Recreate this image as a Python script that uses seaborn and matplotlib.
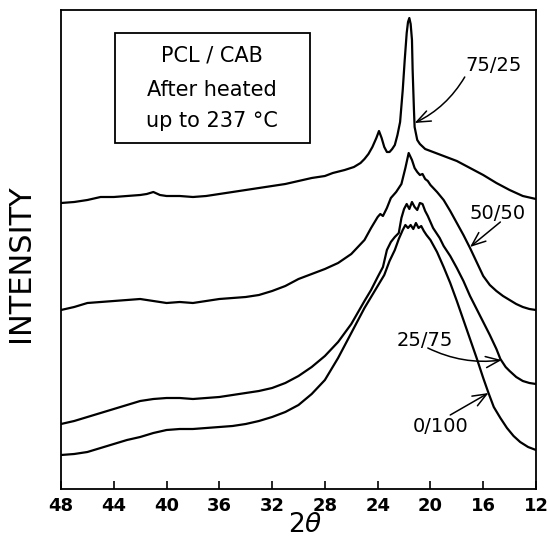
import matplotlib
matplotlib.use("Agg")
import numpy as np
import pandas as pd
import seaborn as sns
from matplotlib import pyplot as plt
from matplotlib.patches import Rectangle

# 2-theta positions and intensity (arbitrary units)
tt_7525 = [48, 47, 46, 45, 44, 43, 42, 41.5, 41, 40.5, 40, 39, 38, 37, 36, 35, 34, 33, 32, 31, 30, 29, 28,
           27.4, 26.5, 25.8, 25.3, 25.0, 24.7, 24.4, 24.1, 23.9, 23.7, 23.5, 23.3, 23.1, 22.9, 22.7, 22.5,
           22.3, 22.1, 21.95, 21.8, 21.7, 21.6, 21.5, 21.4, 21.35, 21.3, 21.25, 21.2, 21.0, 20.8, 20.4, 20.0,
           19, 18, 17, 16, 15, 14, 13, 12]
int_7525 = [287, 288, 290, 293, 293, 294, 295, 296, 298, 295, 294, 294, 293, 294, 296, 298, 300, 302, 304, 306,
            309, 312, 314, 317, 320, 323, 327, 331, 336, 343, 352, 359, 352, 343, 338, 338, 341, 345, 355, 368,
            400, 430, 457, 468, 472, 466, 450, 420, 400, 380, 363, 350, 346, 341, 339, 334, 329, 322, 315, 307,
            300, 294, 291]

tt_5050 = [48, 47, 46, 45, 44, 43, 42, 41, 40, 39, 38, 37, 36, 35, 34, 33, 32, 31, 30, 29, 28, 27, 26, 25,
           24.5, 24.0, 23.8, 23.6, 23.3, 23.0, 22.6, 22.2, 21.9, 21.65, 21.4, 21.2, 21.0, 20.8, 20.6, 20.4,
           20.2, 20.0, 19.5, 19.0, 18.5, 18.0, 17.5, 17.0, 16.5, 16.0, 15.5, 15.0, 14.5, 14.0, 13.5, 13.0,
           12.5, 12.0]
int_5050 = [180, 183, 187, 188, 189, 190, 191, 189, 187, 188, 187, 189, 191, 192, 193, 195, 199, 204, 211, 216,
            221, 227, 236, 250, 262, 273, 276, 274, 282, 292, 298, 306, 322, 337, 330, 322, 318, 315, 316, 311,
            309, 305, 298, 290, 279, 267, 255, 242, 228, 214, 205, 199, 194, 190, 186, 183, 181, 180]

tt_2575 = [48, 47, 46, 45, 44, 43, 42, 41, 40, 39, 38, 37, 36, 35, 34, 33, 32, 31, 30, 29, 28, 27, 26, 25,
           24.5, 24.0, 23.6, 23.3, 23.0, 22.7, 22.4, 22.2, 22.0, 21.8, 21.6, 21.4, 21.2, 21.0, 20.8, 20.6,
           20.4, 20.2, 19.8, 19.3, 19.0, 18.5, 18.0, 17.5, 17.0, 16.5, 16.0, 15.5, 15.0, 14.7, 14.3, 14.0,
           13.5, 13.0, 12.5, 12.0]
int_2575 = [66, 69, 73, 77, 81, 85, 89, 91, 92, 92, 91, 92, 93, 95, 97, 99, 102, 107, 114, 123, 134, 148, 166,
            189, 200, 213, 223, 240, 248, 253, 257, 272, 281, 286, 281, 288, 283, 280, 287, 286, 279, 274, 262,
            252, 244, 234, 222, 209, 194, 181, 168, 155, 141, 131, 123, 119, 113, 109, 107, 106]

tt_0100 = [48, 47, 46, 45, 44, 43, 42, 41, 40, 39, 38, 37, 36, 35, 34, 33, 32, 31, 30, 29, 28, 27, 26, 25,
           24.5, 24.0, 23.5, 23.1, 22.7, 22.4, 22.1, 21.9, 21.7, 21.5, 21.3, 21.1, 20.9, 20.7, 20.5, 20.3,
           20.0, 19.5, 19.0, 18.5, 18.0, 17.5, 17.0, 16.5, 16.0, 15.6, 15.2, 14.7, 14.2, 13.7, 13.2, 12.6, 12.0]
int_0100 = [35, 36, 38, 42, 46, 50, 53, 57, 60, 61, 61, 62, 63, 64, 66, 69, 73, 78, 85, 96, 110, 132, 157, 182,
            193, 204, 215, 229, 240, 251, 260, 265, 262, 265, 261, 267, 262, 264, 259, 255, 250, 238, 223, 207,
            189, 170, 151, 132, 112, 97, 83, 72, 62, 54, 48, 43, 40]

samples = ["75/25", "50/50", "25/75", "0/100"]
x_ticks = [48, 44, 40, 36, 32, 28, 24, 20, 16, 12]
box_lines = ["PCL / CAB", "After heated", "up to 237 °C"]

df = pd.concat([
    pd.DataFrame({"two_theta": tt_7525, "intensity": int_7525, "sample": "75/25"}),
    pd.DataFrame({"two_theta": tt_5050, "intensity": int_5050, "sample": "50/50"}),
    pd.DataFrame({"two_theta": tt_2575, "intensity": int_2575, "sample": "25/75"}),
    pd.DataFrame({"two_theta": tt_0100, "intensity": int_0100, "sample": "0/100"}),
])

sns.set_style("ticks")
plt.rcParams["font.family"] = ["DejaVu Sans"]
plt.rcParams["xtick.direction"] = "in"
plt.rcParams["text.color"] = "black"
plt.rcParams["axes.labelcolor"] = "black"
plt.rcParams["xtick.color"] = "black"

fig = plt.figure(figsize=(5.5, 5.42), dpi=100)
ax = fig.add_axes([61 / 550, 53 / 542, 475 / 550, 479 / 542])

sns.lineplot(data=df, x="two_theta", y="intensity", hue="sample", units="sample", estimator=None,
             palette={s: "black" for s in samples}, linewidth=1.6, legend=False, ax=ax)

ax.set_xlim(48, 12)
ax.set_ylim(1, 480)
ax.set_xticks(x_ticks)
ax.set_xticklabels([str(t) for t in x_ticks], fontsize=13, fontweight="bold")
ax.tick_params(axis="x", length=6, width=1.2, pad=6)
ax.set_yticks([])
for sp in ax.spines.values():
    sp.set_linewidth(1.3)
    sp.set_color("black")

ax.set_xlabel(r"2$\theta$", fontsize=19)
ax.xaxis.set_label_coords(0.514, -0.048)
ax.set_ylabel("INTENSITY", fontsize=22)
ax.yaxis.set_label_coords(-0.054, 0.472)

# inset box
ax.add_patch(Rectangle((0.114, 0.722), 0.41, 0.23, transform=ax.transAxes,
                       fill=False, edgecolor="black", linewidth=1.3))
for txt, yy in zip(box_lines, [0.906, 0.833, 0.768]):
    ax.text(0.318, yy, txt, transform=ax.transAxes, ha="center", va="center", fontsize=15)

# sample labels with arrows
label_pos = {"75/25": (15.25, 425), "50/50": (14.9, 277), "25/75": (20.4, 150), "0/100": (19.2, 63)}
arrow_from = {"75/25": (17.4, 413), "50/50": (14.7, 268), "25/75": (20.2, 142), "0/100": (18.5, 75)}
arrow_to = {"75/25": (21.2, 367), "50/50": (17.0, 243), "25/75": (14.6, 130), "0/100": (15.6, 97)}
arrow_rad = {"75/25": -0.15, "50/50": 0.0, "25/75": 0.15, "0/100": 0.0}
for s in samples:
    ax.text(*label_pos[s], s, ha="center", va="center", fontsize=14)
    ax.annotate("", xy=arrow_to[s], xytext=arrow_from[s],
                arrowprops=dict(arrowstyle="->,head_length=0.5,head_width=0.2", mutation_scale=20,
                                lw=1.1, color="black",
                                connectionstyle=f"arc3,rad={arrow_rad[s]}", shrinkA=0, shrinkB=0))

fig.savefig("out.png", dpi=100)
